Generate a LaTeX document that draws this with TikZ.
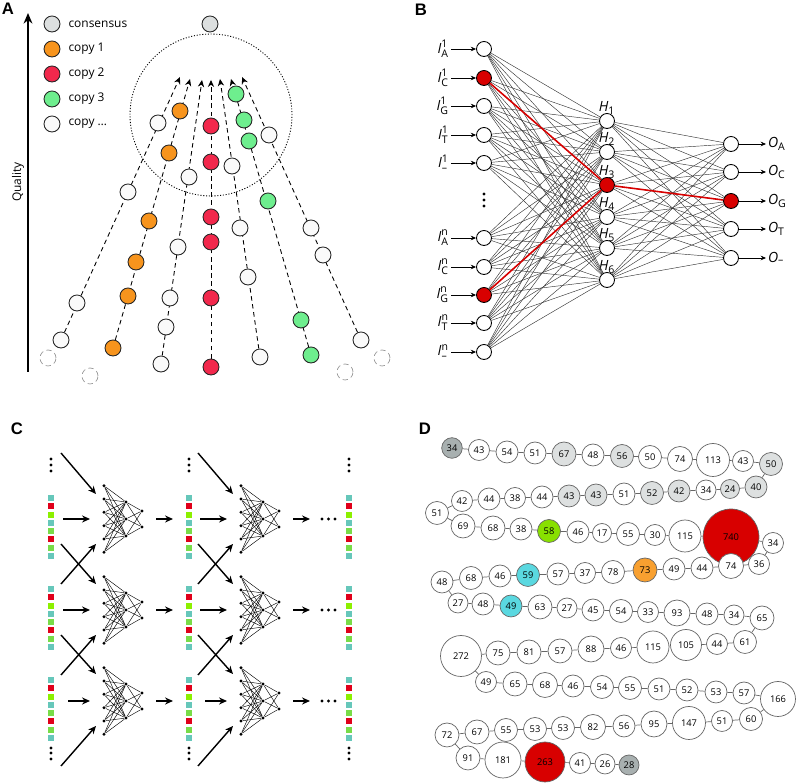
\documentclass[tikz,border=0pt]{standalone}
\usepackage{amsmath}
\usepackage{fontspec}
\setmainfont{Open Sans}
\newfontfamily\panelfont{Liberation Sans}
\usetikzlibrary{arrows.meta, positioning, backgrounds}

\definecolor{cgray}{HTML}{DCDFDF}
\definecolor{corange}{HTML}{F7941D}
\definecolor{ccrimson}{HTML}{F2284C}
\definecolor{cgreen}{HTML}{6EEE8E}
\definecolor{cwhite}{HTML}{FAFAFA}
\definecolor{bred}{HTML}{D80000}
\definecolor{qteal}{HTML}{66C7BA}
\definecolor{qred}{HTML}{E0001A}
\definecolor{qlime}{HTML}{8CF000}
\definecolor{qgreen}{HTML}{78DC48}
\definecolor{dkgray}{HTML}{A8B0B0}
\definecolor{ltgray}{HTML}{DDE0E0}
\definecolor{dgreen}{HTML}{88E000}
\definecolor{dcyan}{HTML}{5AD8E0}
\definecolor{dorange}{HTML}{F8A030}
\definecolor{dred}{HTML}{D80000}

\newcommand\supsub[3]{$\text{\itshape #1}^{\text{#2}}_{\text{#3}}$}
\newcommand\justsub[2]{$\text{\itshape #1}_{\text{#2}}$}

\tikzset{
  panel/.style={font=\panelfont\bfseries\fontsize{9.5}{10}\selectfont, inner sep=0pt},
  adot/.style={circle, draw=black!85, line width=0.5pt, minimum size=0.32cm, inner sep=0pt},
  atext/.style={font=\fontsize{6.8}{8}\selectfont, inner sep=1pt},
  aflow/.style={dash pattern=on 2.6pt off 2pt, line width=0.5pt, -{Stealth[length=4pt,width=3.6pt]}},
  bnode/.style={circle, draw, line width=0.5pt, minimum size=0.3cm, inner sep=0pt},
  bwire/.style={line width=0.25pt, black!80},
  bhot/.style={line width=0.9pt, bred},
  barrow/.style={line width=0.4pt, -{Stealth[length=3pt,width=2.6pt]}},
  blab/.style={font=\fontsize{8}{9}\selectfont, inner sep=1pt},
  cdot/.style={circle, fill, minimum size=0.065cm, inner sep=0pt},
  cwire/.style={line width=0.25pt},
  carrow/.style={line width=0.8pt, -{Stealth[length=4.5pt,width=4pt]}},
  dnode/.style={circle, draw=black!60, line width=0.4pt, inner sep=0pt, font=\fontsize{5.3}{6}\selectfont},
  dlink/.style={line width=0.4pt, black!60}
}

\begin{document}
\begin{tikzpicture}[x=0.02cm, y=-0.02cm]
    \useasboundingbox (0,0) rectangle (796,783);

    \node[panel] (labA) at (8,9) {A};
    \coordinate (qlo) at (28,372);
    \coordinate (qhi) at (28,13);
    \draw[line width=1.1pt, -{Stealth[length=6pt,width=5pt]}] (qlo) -- (qhi);
    \node[atext, rotate=90] (quality) at (18,182) {Quality};
    \foreach \clr/\txt [count=\i] in {cgray/consensus, corange/copy 1, ccrimson/copy 2, cgreen/copy 3, cwhite/copy \ldots}{
        \node[adot, fill=\clr] (leg\i) at (52,25*\i-1) {};
        \node[atext, right=0.12cm of leg\i] (legt\i) {\txt};
    }
    \node[adot, fill=cgray] (consensus) at (210,24) {};
    \node[circle, draw, line width=0.5pt, dash pattern=on 0.6pt off 1pt, minimum size=3.24cm] (zone) at (211,115) {};
    \foreach \x/\y [count=\k] in {48/358, 90/376, 345/372, 382/358}
        \node[adot, draw=black!40, line width=0.4pt, densely dashed] (ghost\k) at (\x,\y) {};
    \foreach \clr/\tx/\ty/\pts [count=\k] in {
        cwhite/180/77/{61/340,77/303,128/192,158/123},
        corange/190/79/{113/348,128/296,136/262,149/221,169/153,180/111},
        cwhite/202/80/{161/364,166/327,170/298,178/247,189/177},
        ccrimson/211/80/{211/367,211/298,211/242,211/217,211/162,211/126},
        cwhite/220/79/{260/357,248/277,240/228,232/166},
        cgreen/231/79/{311/355,301/320,268/201,249/141,244/120,236/94},
        cwhite/242/77/{361/340,323/255,311/228,269/135}}{
        \foreach \px/\py [count=\j] in \pts
            \node[adot, fill=\clr] (a\k-\j) at (\px,\py) {};
        \coordinate (a\k-tip) at (\tx,\ty);
        \begin{scope}[on background layer]
            \draw[aflow] (a\k-1) -- (a\k-tip);
        \end{scope}
    }

    \node[panel] (labB) at (421,10) {B};
    \foreach \y/\s/\t/\f [count=\a] in {49/1/A/white, 78/1/C/bred, 106/1/G/white, 135/1/T/white, 163/1/--/white,
        238/n/A/white, 267/n/C/white, 295/n/G/bred, 323/n/T/white, 352/n/--/white}{
        \node[bnode, fill=\f] (i\a) at (484,\y) {};
        \node[blab, anchor=east] (li\a) at (451,\y) {\supsub{I}{\s}{\t}};
        \draw[barrow] (li\a.east) -- (i\a);
    }
    \foreach \y in {194,200,206}
        \fill (484,\y) circle (0.032cm);
    \foreach \y/\f [count=\b] in {121/white, 152/white, 185/bred, 217/white, 248/white, 280/white}{
        \node[bnode, fill=\f] (h\b) at (607,\y) {};
        \node[blab, above=-0.07cm of h\b] (lh\b) {\justsub{H}{\b}};
    }
    \foreach \y/\t/\f [count=\c] in {144/A/white, 172/C/white, 201/G/bred, 229/T/white, 258/--/white}{
        \node[bnode, fill=\f] (o\c) at (731,\y) {};
        \node[blab, anchor=west] (lo\c) at (766,\y) {\justsub{O}{\t}};
        \draw[barrow] (o\c) -- (lo\c.west);
    }
    \foreach \a in {1,...,10}
        \foreach \b in {1,...,6}
            \draw[bwire] (i\a) -- (h\b);
    \foreach \b in {1,...,6}
        \foreach \c in {1,...,5}
            \draw[bwire] (h\b) -- (o\c);
    \draw[bhot] (i2) -- (h3);
    \draw[bhot] (i8) -- (h3);
    \draw[bhot] (h3) -- (o3);

    \node[panel] (labC) at (17,429) {C};
    \foreach \x in {51,189,349}{
        \foreach \yc in {519,610,701}
            \foreach \clr [count=\q] in {qteal,qred,qlime,qteal,qgreen,qred,qgreen,qteal}
                \fill[\clr] (\x-3,\yc-32.1+8.25*\q) rectangle (\x+3,\yc-26.1+8.25*\q);
        \foreach \y in {459,465,471,748,753,759}
            \fill (\x,\y) circle (0.032cm);
    }
    \foreach \col in {0,1}{
        \foreach \yc in {519,610,701}{
            \pgfmathsetmacro\xn{104+137*\col}
            \foreach \k in {1,...,6}
                \node[cdot] (n\col\yc-a\k) at (\xn,\yc+13.3*\k-46.55) {};
            \foreach \k in {1,2,3}
                \node[cdot] (n\col\yc-b\k) at (\xn+22,\yc+17*\k-34) {};
            \foreach \k in {1,2}
                \node[cdot] (n\col\yc-c\k) at (\xn+38,\yc+16*\k-24) {};
            \foreach \k in {1,...,6}
                \foreach \m in {1,2,3}
                    \draw[cwire] (n\col\yc-a\k) -- (n\col\yc-b\m);
            \foreach \m in {1,2,3}
                \foreach \k in {1,2}
                    \draw[cwire] (n\col\yc-b\m) -- (n\col\yc-c\k);
            \draw[carrow] (156+137*\col,\yc) -- (173+137*\col,\yc);
        }
        \pgfmathsetmacro\o{137*\col}
        \draw[carrow] (61+\o,453) -- (96+\o,494);
        \draw[carrow] (61+\o,544) -- (96+\o,584);
        \draw[carrow] (61+\o,584) -- (96+\o,544);
        \draw[carrow] (61+\o,635) -- (96+\o,674);
        \draw[carrow] (61+\o,675) -- (96+\o,635);
        \draw[carrow] (61+\o,766) -- (96+\o,726);
        \draw[carrow] (63+\o,519) -- (90+\o,519);
        \draw[carrow] (63+\o,610) -- (90+\o,610);
        \draw[carrow] (68+\o,701) -- (90+\o,701);
    }
    \foreach \yc in {519,610,701}
        \foreach \x in {322,328.5,335}
            \fill (\x,\yc) circle (0.032cm);

    \node[panel] (labD) at (425,429) {D};
    \foreach \x/\y/\t/\r/\f [count=\i] in {
        452/448/34/10.3/dkgray, 479/450/43/10.5/white, 507/452/54/11/white, 535/453/51/11/white,
        564/454/67/12/ltgray, 593/455/48/11/white, 622/456/56/11.5/ltgray, 650/457/50/11.5/white,
        680/459/74/12.5/white, 713/460/113/16.5/white, 743/461/43/10.5/white, 771/464/50/11.5/ltgray,
        756/487/40/11/ltgray, 730/489/24/9.5/ltgray, 706/490/34/10/white, 679/491/42/11/ltgray,
        652/493/52/11.5/ltgray, 624/494/51/11/white, 596/495/43/11/ltgray, 569/496/43/11/ltgray,
        542/497/44/11/white, 515/498/38/10.5/white, 489/499/44/11/white, 462/501/42/10.5/white,
        437/513/51/11.5/white, 463/526/69/12/white, 493/528/68/12/white, 521/529/38/11/white,
        549/531/58/11.5/dgreen, 578/532/46/11/white, 602/533/17/9.5/white, 628/534/55/11.5/white,
        655/535/30/10.5/white, 685/536/115/16/white, 731/537/740/28/dred, 773/543/34/10.5/white,
        759/564/36/10.5/white, 731/566/74/12.5/white, 702/568/44/11/white, 674/569/49/11/white,
        645/570/73/12/dorange, 613/572/78/11.5/white, 585/573/37/10.5/white, 558/574/57/11/white,
        528/575/59/11.5/dcyan, 500/576/46/11/white, 471/578/68/11.5/white, 442/582/48/11/white,
        458/603/27/10/white, 483/604/48/11/white, 511/606/49/11/dcyan, 540/607/63/12/white,
        567/608/27/10/white, 593/610/45/11/white, 621/611/54/11.5/white, 648/612/33/10.5/white,
        677/613/93/13/white, 707/614/48/11/white, 734/615/34/10/white, 762/618/65/12/white,
        745/642/61/11.5/white, 717/644/44/10.5/white, 686/645/105/15.5/white, 653/647/115/16/white,
        621/648/46/10.5/white, 591/649/88/13/white, 560/651/57/12/white, 529/652/81/12/white,
        498/653/75/12/white, 461/656/272/20.5/white, 486/682/49/10.5/white, 515/684/65/12/white,
        545/685/68/12.5/white, 573/686/46/11/white, 602/687/54/11.5/white, 630/688/55/11.5/white,
        659/689/51/11/white, 687/690/52/11/white, 716/692/53/11/white, 744/693/57/11/white,
        778/699/166/17.5/white, 751/719/60/11.5/white, 722/721/51/10.5/white, 689/723/147/16.5/white,
        654/724/95/13/white, 624/726/56/11/white, 593/727/82/12.5/white, 563/728/53/11.5/white,
        535/729/53/11.5/white, 506/730/55/11.5/white, 477/732/67/12/white, 447/735/72/12/white,
        468/758/91/12/white, 503/760/181/18/white, 545/762/263/20/dred, 580/763/41/10.5/white,
        605/764/26/10/white, 629/765/28/10/dkgray}
        \node[dnode, fill=\f, minimum size={\r*0.04cm}] (d\i) at (\x,\y) {\t};
    \foreach \i [remember=\i as \prev (initially 1)] in {2,...,98}
        \draw[dlink] (d\prev) -- (d\i);
\end{tikzpicture}
\end{document}
